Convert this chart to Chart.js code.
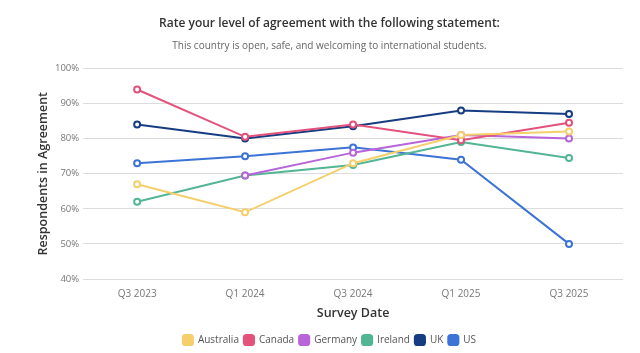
<!DOCTYPE html>
<html>
<head>
<meta charset="utf-8">
<script src="https://cdn.jsdelivr.net/npm/chart.js@4"></script>
<style>
  html, body { margin: 0; padding: 0; background: #fff; }
  #wrap { width: 640px; height: 353px; }
</style>
</head>
<body>
<div id="wrap"><canvas id="agreementChart"></canvas></div>
<script>
const surveyDates = ['Q3 2023', 'Q1 2024', 'Q3 2024', 'Q1 2025', 'Q3 2025'];
const australia = [67, 59, 73, 81, 82];
const canada = [94, 80.5, 84, 79.5, 84.5];
const germany = [null, 69.5, 76, 81, 80];
const ireland = [62, 69.5, 72.5, 79, 74.5];
const uk = [84, 80, 83.5, 88, 87];
const us = [73, 75, 77.5, 74, 50];
const yTicks = [40, 50, 60, 70, 80, 90, 100];

const font = "'Open Sans', sans-serif";

function series(label, data, color) {
    return {
        label: label,
        data: data,
        borderColor: color,
        backgroundColor: color,
        borderWidth: 2,
        pointRadius: 3,
        pointBorderWidth: 2,
        pointBackgroundColor: '#fff',
        pointBorderColor: color,
        tension: 0,
        spanGaps: false
    };
}

document.addEventListener('DOMContentLoaded', function() {
    const ctx = document.getElementById('agreementChart');
    new Chart(ctx.getContext('2d'), {
        type: 'line',
        data: {
            labels: surveyDates,
            datasets: [
                series('Australia', australia, '#f5cf6b'),
                series('Canada', canada, '#e3527b'),
                series('Germany', germany, '#b765d8'),
                series('Ireland', ireland, '#52b593'),
                series('UK', uk, '#163c82'),
                series('US', us, '#3b74d6')
            ]
        },
        options: {
            responsive: true,
            maintainAspectRatio: false,
            animation: false,
            layout: { padding: { left: 36, right: 17, top: 10, bottom: -2 } },
            plugins: {
                title: {
                    display: true,
                    text: 'Rate your level of agreement with the following statement:',
                    color: '#333',
                    font: { family: font, size: 12, weight: '600' },
                    padding: { top: 6, bottom: 10 }
                },
                subtitle: {
                    display: true,
                    text: 'This country is open, safe, and welcoming to international students.',
                    color: '#666',
                    font: { family: font, size: 10 },
                    padding: { top: 0, bottom: 16 }
                },
                legend: {
                    position: 'bottom',
                    labels: {
                        color: '#555',
                        font: { family: font, size: 10 },
                        boxWidth: 10,
                        boxHeight: 10,
                        padding: 5,
                        usePointStyle: true,
                        pointStyle: 'rectRounded',
                        generateLabels: function(chart) {
                            return chart.data.datasets.map(function(ds, i) {
                                return {
                                    text: ds.label,
                                    fillStyle: ds.borderColor,
                                    strokeStyle: ds.borderColor,
                                    lineWidth: 0,
                                    pointStyle: 'rectRounded',
                                    fontColor: '#555',
                                    datasetIndex: i
                                };
                            });
                        }
                    }
                }
            },
            scales: {
                y: {
                    min: 40,
                    max: 100,
                    afterBuildTicks: function(axis) {
                        axis.ticks = yTicks.map(function(v) { return { value: v }; });
                    },
                    ticks: {
                        color: '#777',
                        font: { family: font, size: 9.5 },
                        padding: 4,
                        callback: function(value) { return value + '%'; }
                    },
                    grid: { color: '#dcdcdc', lineWidth: 1, drawTicks: false },
                    border: { display: false },
                    title: {
                        display: true,
                        text: 'Respondents in Agreement',
                        color: '#333',
                        font: { family: font, size: 12.5, weight: '600' },
                        padding: { top: 0, bottom: 0 }
                    }
                },
                x: {
                    offset: true,
                    grid: { display: false, drawTicks: false },
                    border: { display: false },
                    ticks: {
                        color: '#777',
                        font: { family: font, size: 10 },
                        padding: 9
                    },
                    title: {
                        display: true,
                        text: 'Survey Date',
                        color: '#333',
                        font: { family: font, size: 12.5, weight: '600' },
                        padding: { top: -3, bottom: 9 }
                    }
                }
            }
        }
    });
});
</script>
</body>
</html>
